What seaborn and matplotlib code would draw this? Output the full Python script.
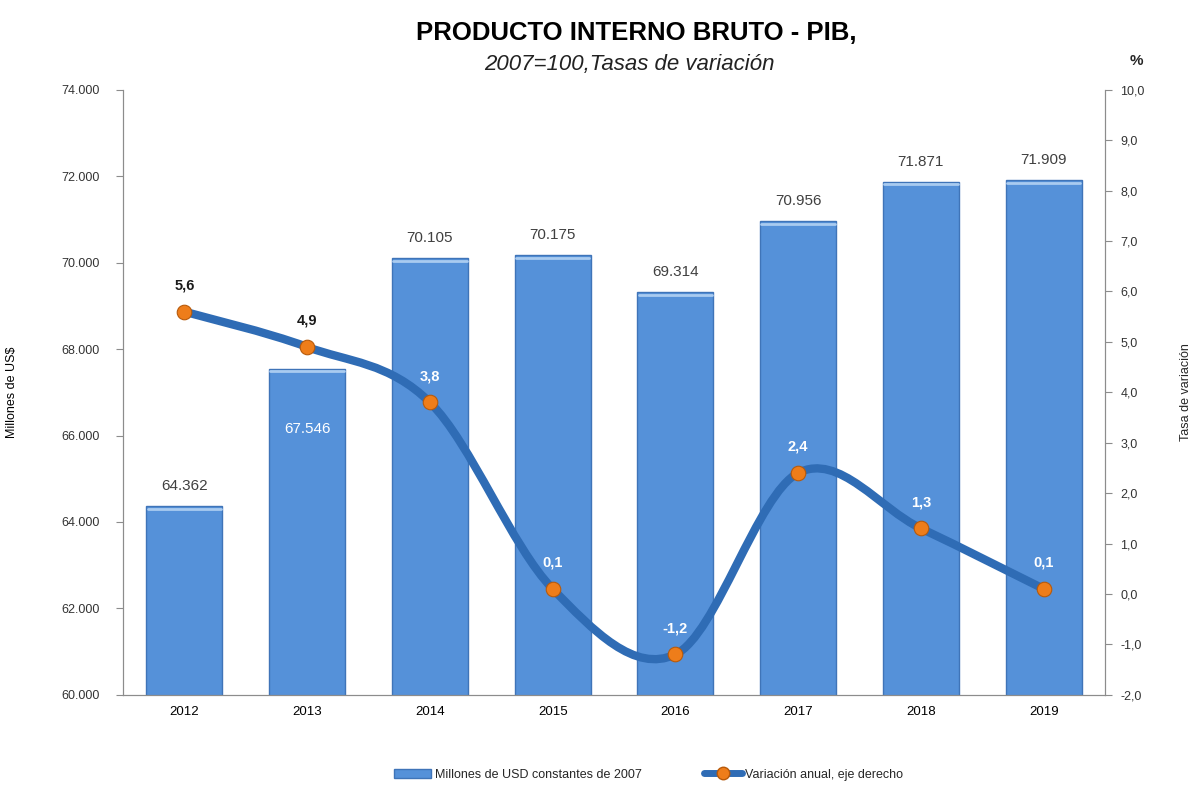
import numpy as np
import pandas as pd
import matplotlib
matplotlib.use("Agg")
import matplotlib.pyplot as plt
from matplotlib.path import Path
from matplotlib.patches import PathPatch, Patch
from matplotlib.lines import Line2D
import matplotlib.ticker as mticker
import seaborn as sns

# Data
years = ["2012", "2013", "2014", "2015", "2016", "2017", "2018", "2019"]
pib_millones = [64362, 67546, 70105, 70175, 69314, 70956, 71871, 71909]
variacion = [5.6, 4.9, 3.8, 0.1, -1.2, 2.4, 1.3, 0.1]

df = pd.DataFrame({"year": years, "pib": pib_millones, "var": variacion})

sns.set_style("white")
plt.rcParams["font.family"] = ["Liberation Sans", "DejaVu Sans"]

bar_color = "#5591D9"
line_color = "#2F6CB5"
marker_color = "#EE7D1A"
axis_gray = "#8C8C8C"
text_gray = "#404040"

fig = plt.figure(figsize=(11.9, 7.85), dpi=100)
ax = fig.add_axes([0.1034, 0.115, 0.8252, 0.7705])

sns.barplot(data=df, x="year", y="pib", color=bar_color, width=0.62,
            edgecolor="#3F74B8", linewidth=1.0, saturation=1, ax=ax)
ax.set_ylim(60000, 74000)
ax.set_xlim(-0.5, len(years) - 0.5)
ax.yaxis.set_major_locator(mticker.MultipleLocator(2000))
ax.yaxis.set_major_formatter(mticker.FuncFormatter(lambda v, p: f"{int(v):,}".replace(",", ".")))
ax.set_xlabel("")
ax.set_ylabel("Millones de US$", fontsize=9, color="black")
ax.yaxis.set_label_coords(-0.107, 0.5)

# light highlight on bar tops
for bar in ax.patches:
    x0 = bar.get_x()
    w = bar.get_width()
    h = bar.get_height()
    ax.plot([x0 + 0.01, x0 + w - 0.01], [h - 60, h - 60], color="#A9CBF0", lw=2, zorder=3)

# bar value labels
for i, v in enumerate(pib_millones):
    lbl = f"{v:,}".replace(",", ".")
    if years[i] == "2013":
        ax.text(i, v - 1400, lbl, ha="center", va="center", fontsize=11, color="white", zorder=4)
    else:
        ax.text(i, v + 300, lbl, ha="center", va="bottom", fontsize=11, color=text_gray, zorder=4)

# secondary axis
ax2 = ax.twinx()
ax2.set_ylim(-2, 10)
ax2.yaxis.set_major_locator(mticker.MultipleLocator(1))
ax2.yaxis.set_major_formatter(mticker.FuncFormatter(lambda v, p: f"{v:.1f}".replace(".", ",")))

# smooth line (Catmull-Rom rendered as Bezier path)
xs = np.arange(len(years), dtype=float)
ys = np.array(variacion, dtype=float)
pts = np.column_stack([xs, ys])
verts = [tuple(pts[0])]
codes = [Path.MOVETO]
n = len(pts)
for i in range(n - 1):
    p0 = pts[i - 1] if i > 0 else pts[i]
    p1 = pts[i]
    p2 = pts[i + 1]
    p3 = pts[i + 2] if i + 2 < n else pts[i + 1]
    c1 = p1 + (p2 - p0) / 6.0
    c2 = p2 - (p3 - p1) / 6.0
    verts += [tuple(c1), tuple(c2), tuple(p2)]
    codes += [Path.CURVE4] * 3
ax2.add_patch(PathPatch(Path(verts, codes), facecolor="none", edgecolor=line_color,
                        lw=6, capstyle="round", joinstyle="round", zorder=5))
sns.scatterplot(data=df, x=xs, y="var", color=marker_color, s=110, edgecolor="#B85A0A",
                linewidth=0.8, zorder=6, ax=ax2, legend=False)
ax2.set_ylabel("Tasa de variación", fontsize=9, rotation=90)
ax2.yaxis.set_label_coords(1.076, 0.5)

for i, v in enumerate(variacion):
    lbl = f"{v:.1f}".replace(".", ",")
    col = "#1A1A1A" if i < 2 else "white"
    ax2.text(i, v + 0.38, lbl, ha="center", va="bottom", fontsize=10.5,
             fontweight="bold", color=col, zorder=7)

# axes styling
for a in (ax, ax2):
    for s in a.spines.values():
        s.set_color(axis_gray)
    a.spines["top"].set_visible(False)
ax.tick_params(axis="y", direction="out", length=5, color=axis_gray, labelsize=9, labelcolor="#333333", pad=12)
ax2.tick_params(axis="y", direction="out", length=5, color=axis_gray, labelsize=9, labelcolor="#333333", pad=6)
ax.tick_params(axis="x", which="major", length=0, labelsize=9.5, labelcolor="black", pad=8)
ax.xaxis.set_minor_locator(mticker.FixedLocator(np.arange(-0.5, len(years), 1.0)))
ax.tick_params(axis="x", which="minor", direction="out", length=5, color=axis_gray)

# titles
fig.text(0.535, 0.958, "PRODUCTO INTERNO BRUTO - PIB,", ha="center", va="center",
         fontsize=18.5, fontweight="bold", color="black")
fig.text(0.529, 0.918, "2007=100,Tasas de variación", ha="center", va="center",
         fontsize=16, style="italic", color="#222222")
fig.text(0.955, 0.922, "%", ha="center", va="center", fontsize=11, fontweight="bold")

# legend
handles = [
    Patch(facecolor=bar_color, edgecolor="#3F74B8", label="Millones de USD constantes de 2007"),
    Line2D([0], [0], color=line_color, lw=5, marker="o", markersize=9,
           markerfacecolor=marker_color, markeredgecolor="#B85A0A",
           label="Variación anual, eje derecho"),
]
fig.legend(handles=handles, loc="center", bbox_to_anchor=(0.545, 0.013), ncol=2,
           frameon=False, fontsize=9, handlelength=3, columnspacing=5, handletextpad=0.3)

fig.savefig("out.png", dpi=100)
